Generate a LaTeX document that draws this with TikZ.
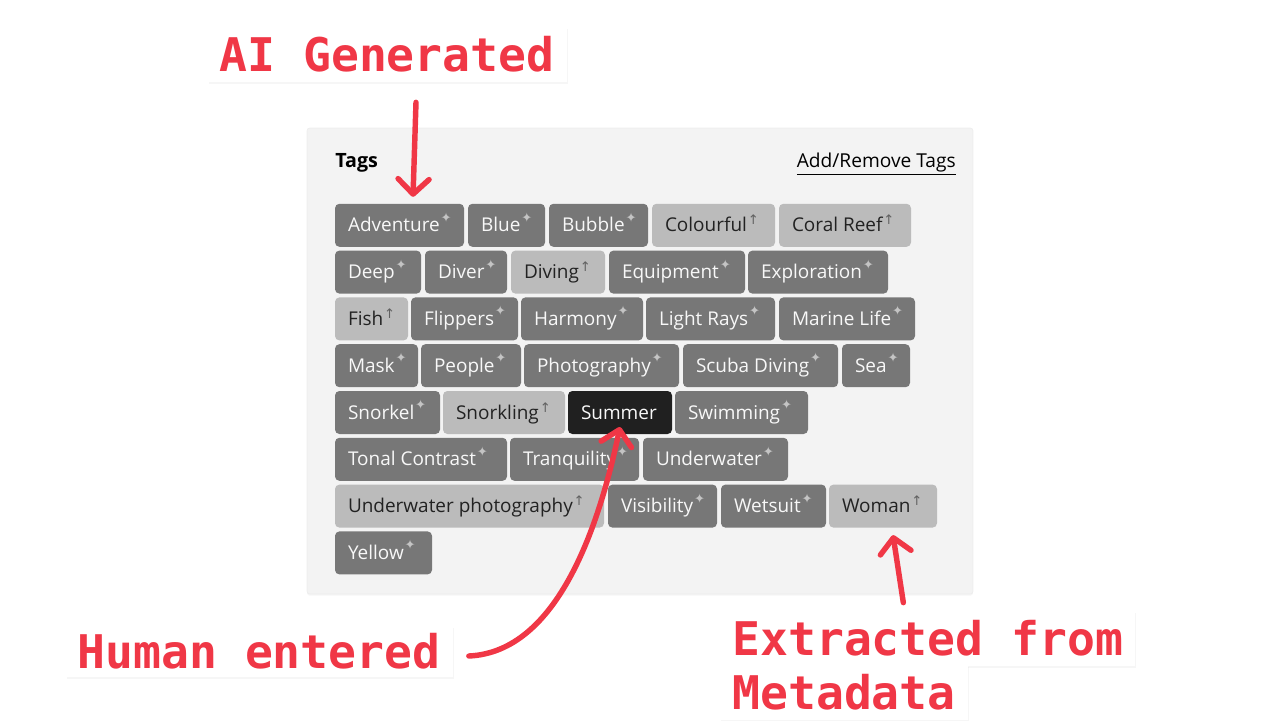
\documentclass[tikz,border=0pt]{standalone}
\usepackage{fontspec}
\usetikzlibrary{arrows.meta,shadows}
\newfontfamily\tagfont{Open Sans}
\newfontfamily\calloutfont{DejaVu Sans Mono}
\newfontfamily\symbfont{DejaVu Sans}
\definecolor{callred}{RGB}{240,55,70}
\definecolor{panelbg}{RGB}{243,243,243}
\definecolor{tagfilld}{RGB}{119,119,119}
\definecolor{tagfilll}{RGB}{187,187,187}
\definecolor{tagfills}{RGB}{32,32,32}
\definecolor{tagtextd}{RGB}{248,248,248}
\definecolor{tagtextl}{RGB}{34,34,34}
\definecolor{tagtexts}{RGB}{248,248,248}
\definecolor{sparkle}{RGB}{196,196,196}
\newcommand{\tagmarkd}{\hspace{0.5pt}\raisebox{5.5pt}{\textcolor{sparkle}{\symbfont\fontsize{7.5}{7.5}\selectfont ✦}}}
\newcommand{\tagmarkl}{\hspace{0.5pt}\raisebox{4pt}{\textcolor{black!62}{\symbfont\fontsize{7.5}{7.5}\selectfont ↑}}}
\newcommand{\tagmarks}{}
\tikzset{
  panel/.style={fill=panelbg, draw=black!7, rounded corners=1.5pt, minimum width=13.32cm, minimum height=9.32cm,
    drop shadow={shadow xshift=0pt, shadow yshift=-1pt, opacity=0.08}},
  tagbox/.style={anchor=west, rounded corners=2.5pt, minimum height=0.86cm, inner xsep=0.26cm, inner ysep=0pt,
    outer sep=0pt, text height=7.6pt, text depth=0pt, font=\tagfont\fontsize{10.8}{12}\selectfont},
  callout/.style={fill=white, text=callred, inner xsep=0.24cm, inner ysep=0pt,
    font=\calloutfont\bfseries\fontsize{26.4}{30}\selectfont,
    drop shadow={shadow xshift=0.6pt, shadow yshift=-1.2pt, opacity=0.07}},
  redarrow/.style={draw=callred, line width=3.1pt, line cap=round,
    -{Straight Barb[length=0.3cm, width=0.62cm, line cap=round, line join=round]}}
}
\begin{document}
\begin{tikzpicture}[x=0.02cm, y=-0.02cm]
\useasboundingbox (0,0) rectangle (1280,720);

% tag panel
\node[panel] (panel) at (640,361) {};
\node[anchor=base west, inner sep=0pt, font=\tagfont\bfseries\fontsize{11.2}{13}\selectfont] (tagshead) at (335,167) {Tags};
\node[anchor=base east, inner sep=0pt, font=\tagfont\fontsize{10.9}{13}\selectfont] (addremove) at (956,167) {\underline{Add/Remove Tags}};

% tags: name/label/left/right/kind/row
\foreach \nm/\lbl/\xa/\xb/\kind/\r in {
  adventure/Adventure/335/464/d/1, blue/Blue/468/545/d/1, bubble/Bubble/549/648/d/1,
  colourful/Colourful/652/775/l/1, coralreef/Coral Reef/779/911/l/1,
  deep/Deep/335/421/d/2, diver/Diver/425/507/d/2, diving/Diving/511/605/l/2,
  equipment/Equipment/609/745/d/2, exploration/Exploration/748/888/d/2,
  fish/Fish/335/408/l/3, flippers/Flippers/411/518/d/3, harmony/Harmony/521/643/d/3,
  lightrays/Light Rays/646/775/d/3, marinelife/Marine Life/779/915/d/3,
  mask/Mask/335/418/d/4, people/People/421/521/d/4, photography/Photography/524/679/d/4,
  scubadiving/Scuba Diving/683/838/d/4, sea/Sea/842/910/d/4,
  snorkel/Snorkel/335/440/d/5, snorkling/Snorkling/443/565/l/5, summer/Summer/568/672/s/5,
  swimming/Swimming/675/808/d/5,
  tonalcontrast/Tonal Contrast/335/507/d/6, tranquility/Tranquility/510/639/d/6,
  underwater/Underwater/643/788/d/6,
  uwphoto/Underwater photography/335/604/l/7, visibility/Visibility/608/717/d/7,
  wetsuit/Wetsuit/721/826/d/7, woman/Woman/829/937/l/7,
  yellow/Yellow/335/432/d/8}{
  \pgfmathsetmacro{\tw}{(\xb-\xa-26)*0.02}
  \node[tagbox, fill=tagfill\kind, text=tagtext\kind] (\nm) at (\xa,{225.3+46.8*(\r-1)})
    {\makebox[\tw cm][l]{\lbl\csname tagmark\kind\endcsname}};
}

% callouts
\node[callout, minimum height=1.1cm] (aigen) at (387,54.5) {AI Generated};
\node[callout, minimum height=1.02cm] (human) at (259,651.5) {Human entered};
\node[callout, anchor=west, minimum height=1.1cm] (meta1) at (720,638.5) {Extracted from};
\node[callout, anchor=west, minimum height=1.1cm] (meta2) at (720,692.5) {Metadata};

% arrows
\draw[redarrow] ([xshift=0.58cm, yshift=-0.4cm]aigen.south) -- ([xshift=0.27cm, yshift=0.14cm]adventure.north);
\draw[redarrow] ([xshift=0.32cm, yshift=-0.09cm]human.east) .. controls +(90,-4) and +(-20,95) .. ([yshift=0.14cm]summer.south);
\draw[redarrow] ([xshift=-0.49cm, yshift=0.16cm]meta1.north) -- ([xshift=0.2cm, yshift=-0.15cm]woman.south);
\end{tikzpicture}
\end{document}
